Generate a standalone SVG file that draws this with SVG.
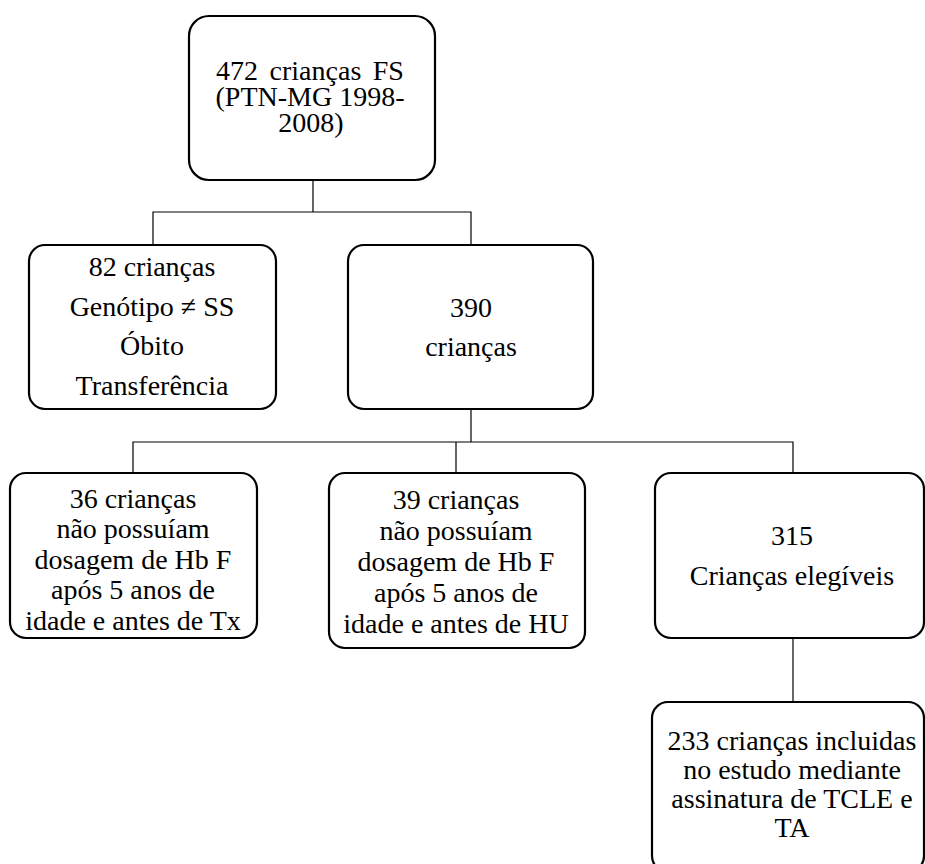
<svg xmlns="http://www.w3.org/2000/svg" width="925" height="864" viewBox="0 0 925 864">
<style>
.box{fill:#fff;stroke:#000;stroke-width:2.2}
.t{font-family:'Liberation Serif','Times New Roman',Tinos,'DejaVu Serif',serif;font-size:28px;fill:#000;text-anchor:middle}
.c{fill:none;stroke:#000;stroke-width:1.2}
</style>
<rect width="925" height="864" fill="#fff"/>
<g id="connectors">
<path class="c" d="M313 180V212M153 245V212H471V245"/>
<path class="c" d="M471 409V442M133 473V442H793V473M456 442V473"/>
<path class="c" d="M793 638V702"/>
</g>
<g id="n472">
<rect class="box" x="189" y="16" width="246" height="164" rx="20"/>
<text class="t" x="310" y="80" word-spacing="4.5">472 crianças FS</text>
<text class="t" x="310" y="106">(PTN-MG 1998-</text>
<text class="t" x="311" y="132">2008)</text>
</g>
<g id="n82">
<rect class="box" x="29" y="245" width="247" height="164" rx="16"/>
<text class="t" x="152" y="276">82 crianças</text>
<text class="t" x="152" y="316">Genótipo ≠ SS</text>
<text class="t" x="152" y="355">Óbito</text>
<text class="t" x="152" y="395">Transferência</text>
</g>
<g id="n390">
<rect class="box" x="348" y="245" width="245" height="164" rx="16"/>
<text class="t" x="471" y="317">390</text>
<text class="t" x="471" y="356">crianças</text>
</g>
<g id="n36">
<rect class="box" x="10" y="473" width="247" height="165" rx="16"/>
<text class="t" x="133" y="508">36 crianças</text>
<text class="t" x="133" y="538">não possuíam</text>
<text class="t" x="133" y="569">dosagem de Hb F</text>
<text class="t" x="133" y="599">após 5 anos de</text>
<text class="t" x="133" y="630">idade e antes de Tx</text>
</g>
<g id="n39">
<rect class="box" x="329" y="473" width="256" height="175" rx="16"/>
<text class="t" x="456" y="509">39 crianças</text>
<text class="t" x="456" y="540">não possuíam</text>
<text class="t" x="456" y="571">dosagem de Hb F</text>
<text class="t" x="456" y="602">após 5 anos de</text>
<text class="t" x="456" y="633">idade e antes de HU</text>
</g>
<g id="n315">
<rect class="box" x="655" y="473" width="269" height="165" rx="16"/>
<text class="t" x="792" y="545">315</text>
<text class="t" x="792" y="585">Crianças elegíveis</text>
</g>
<g id="n233">
<rect class="box" x="652" y="702" width="272" height="170" rx="16"/>
<text class="t" x="792" y="750">233 crianças incluidas</text>
<text class="t" x="792" y="779">no estudo mediante</text>
<text class="t" x="792" y="808">assinatura de TCLE e</text>
<text class="t" x="792" y="837">TA</text>
</g>
</svg>
